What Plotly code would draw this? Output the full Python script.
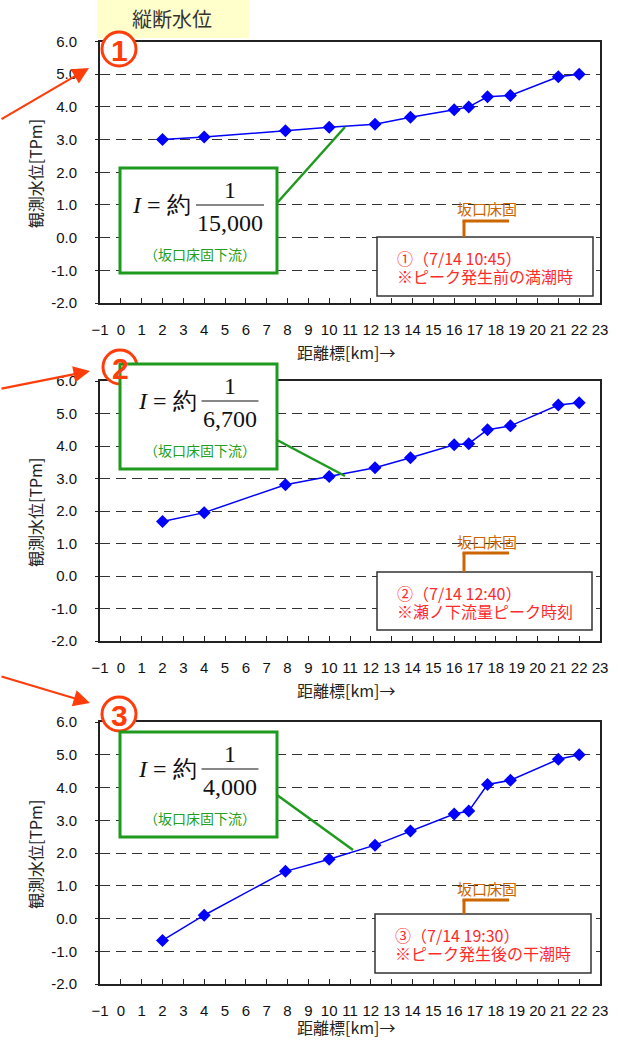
import plotly.graph_objects as go

W, H = 619, 1040

# --- data ---
dist_km = [2.0, 4.0, 7.9, 10.0, 12.2, 13.9, 16.0, 16.7, 17.6, 18.7, 21.0, 22.0]
level_1 = [3.00, 3.08, 3.27, 3.38, 3.47, 3.68, 3.91, 4.00, 4.31, 4.35, 4.92, 5.00]
level_2 = [1.68, 1.95, 2.81, 3.06, 3.33, 3.64, 4.04, 4.07, 4.50, 4.62, 5.26, 5.33]
level_3 = [-0.67, 0.10, 1.44, 1.81, 2.24, 2.67, 3.19, 3.28, 4.09, 4.22, 4.86, 5.00]
levels = [level_1, level_2, level_3]

x_ticks = list(range(-1, 24))
y_ticks = [6, 5, 4, 3, 2, 1, 0, -1, -2]
y_tick_labels = ["6.0", "5.0", "4.0", "3.0", "2.0", "1.0", "0.0", "-1.0", "-2.0"]

panel_marks = ["1", "2", "3"]
slope_denoms = ["15,000", "6,700", "4,000"]
event_times = ["①（7/14 10:45）", "②（7/14 12:40）", "③（7/14 19:30）"]
event_notes = ["※ピーク発生前の満潮時", "※瀬ノ下流量ピーク時刻", "※ピーク発生後の干潮時"]

title_text = "縦断水位"
x_title = "距離標[km]→"
y_title = "観測水位[TPm]"
weir_label = "坂口床固"
weir_note = "（坂口床固下流）"

# --- pixel layout of each panel ---
plot_left, plot_right = 100, 600
panel_top = [41.5, 381, 722]
panel_bottom = [303, 641, 984]
x_title_y = [352, 690, 1027]
green_box_top = [168, 364, 732]
leader_ends = [((277, 203), (345, 127)), ((277, 440), (345, 476)), ((277, 795), (353, 850))]
red_box = [(377, 237, 593, 296), (377, 572, 592, 630), (375, 914, 591, 973)]
bracket_y = [221, 553, 900]
circle_centers = [(119, 49), (120, 367), (119, 714)]
arrows = [((-5, 120), (89, 68)), ((-5, 389), (90, 371)), ((-5, 676), (90, 703))]

RED_ORANGE = "#FF3D0A"
GREEN = "#1E9A1E"
ORANGE = "#CC6600"
JP = "Noto Sans CJK JP"
SANS = "Liberation Sans, Arial, sans-serif"
SERIF = "Liberation Serif, Times New Roman, serif"


def px(x):
    return x / W


def py(y):
    return 1 - y / H


def note(x, y, text, **kw):
    d = dict(x=px(x), y=py(y), xref="paper", yref="paper", text=text,
             showarrow=False, xanchor="center", yanchor="middle")
    d.update(kw)
    return d


def shape(kind, x0, y0, x1, y1, **kw):
    d = dict(type=kind, xref="paper", yref="paper", layer="above",
             x0=px(x0), x1=px(x1), y0=py(y0), y1=py(y1))
    d.update(kw)
    return d


fig = go.Figure()
shapes = []
annotations = []

for i in range(3):
    sfx = "" if i == 0 else str(i + 1)
    fig.add_trace(go.Scatter(
        x=dist_km, y=levels[i], xaxis="x" + sfx, yaxis="y" + sfx,
        mode="lines+markers",
        line=dict(color="#0000FF", width=1.5),
        marker=dict(symbol="diamond", size=10, color="#0000FF"),
        showlegend=False, hoverinfo="skip",
    ))

    fig.layout["xaxis" + sfx] = dict(
        domain=[px(plot_left), px(plot_right)], anchor="y" + sfx,
        range=[-1, 23], tickvals=x_ticks, ticks="inside", ticklen=5,
        tickcolor="#222", showline=True, linecolor="#222", linewidth=2,
        mirror=True, showgrid=False, zeroline=False, ticklabelstandoff=12,
        automargin=False,
        tickfont=dict(family=SANS, size=15, color="#111"),
    )
    fig.layout["yaxis" + sfx] = dict(
        domain=[py(panel_bottom[i]), py(panel_top[i])], anchor="x" + sfx,
        range=[-2, 6], tickvals=y_ticks, ticktext=y_tick_labels,
        ticks="outside", ticklen=3, tickcolor="#222",
        showline=True, linecolor="#222", linewidth=2, mirror=True,
        showgrid=True, gridcolor="#333", gridwidth=1, griddash="10px,6px",
        zeroline=False, ticklabelstandoff=15, automargin=False,
        tickfont=dict(family=SANS, size=15, color="#111"),
    )

    # axis titles
    annotations.append(note(346, x_title_y[i], x_title,
                            font=dict(family=JP, size=16, color="#222")))
    annotations.append(note(35, (panel_top[i] + panel_bottom[i]) / 2 + 2, y_title,
                            textangle=-90, font=dict(family=JP, size=16, color="#222")))

    # circled panel number + arrow
    cx, cy = circle_centers[i]
    shapes.append(shape("circle", cx - 17, cy - 17, cx + 17, cy + 17,
                        line=dict(color=RED_ORANGE, width=3), fillcolor="white"))
    annotations.append(note(cx, cy + 1, "<b>%s</b>" % panel_marks[i],
                            font=dict(family=SANS, size=30, color=RED_ORANGE)))
    (tx, ty), (hx, hy) = arrows[i]
    annotations.append(dict(
        x=px(hx), y=py(hy), xref="paper", yref="paper",
        ax=tx - hx, ay=ty - hy, text="",
        showarrow=True, arrowhead=2, arrowsize=1.5, arrowwidth=2.2,
        arrowcolor=RED_ORANGE, standoff=0,
    ))

    # green slope box
    (lx0, ly0), (lx1, ly1) = leader_ends[i]
    shapes.append(shape("line", lx0, ly0, lx1, ly1, line=dict(color=GREEN, width=2.5)))
    bt = green_box_top[i]
    shapes.append(shape("rect", 120, bt, 277, bt + 105,
                        line=dict(color=GREEN, width=3), fillcolor="white"))
    half = 5.5 * len(slope_denoms[i]) + 1
    fx = 230
    shapes.append(shape("line", fx - half, bt + 37, fx + half, bt + 37,
                        line=dict(color="#111", width=1)))
    annotations.append(note(fx, bt + 22, "1",
                            font=dict(family=SERIF, size=24, color="#111")))
    annotations.append(note(fx, bt + 55, slope_denoms[i],
                            font=dict(family=SERIF, size=24, color="#111")))
    annotations.append(note(fx - half - 3, bt + 37, "<i>I</i> = 約", xanchor="right",
                            font=dict(family=SERIF, size=24, color="#111")))
    annotations.append(note(200, bt + 86, weir_note,
                            font=dict(family=JP, size=14, color="#22A022")))

    # red event box
    rx0, ry0, rx1, ry1 = red_box[i]
    shapes.append(shape("rect", rx0, ry0, rx1, ry1,
                        line=dict(color="#333", width=1.5), fillcolor="white"))
    annotations.append(note(rx0 + 18, ry0 + 21, event_times[i], xanchor="left",
                            font=dict(family=JP, size=16, color="#FF2A2A")))
    annotations.append(note(rx0 + 18, ry0 + 39, event_notes[i], xanchor="left",
                            font=dict(family=JP, size=16, color="#FF2A2A")))

    # weir marker bracket
    by = bracket_y[i]
    shapes.append(shape("line", 464, by, 464, ry0, line=dict(color=ORANGE, width=3)))
    shapes.append(shape("line", 462.5, by, 509, by, line=dict(color=ORANGE, width=3)))
    annotations.append(note(487, by - 12, weir_label,
                            font=dict(family=JP, size=15, color=ORANGE)))

# title box
shapes.append(shape("rect", 97, 0, 249, 38, layer="below",
                    line=dict(width=0), fillcolor="#FFFFCC"))
annotations.append(note(172, 18, title_text, font=dict(family=JP, size=20, color="#333")))

fig.update_layout(
    width=W, height=H,
    margin=dict(l=0, r=0, t=0, b=0),
    paper_bgcolor="white", plot_bgcolor="white",
    shapes=shapes, annotations=annotations,
    showlegend=False,
)

# drop the default page margin so the figure starts at the window corner
fig.write_html("out.html", config={"displayModeBar": False},
               post_script="document.body.style.margin='0';")
